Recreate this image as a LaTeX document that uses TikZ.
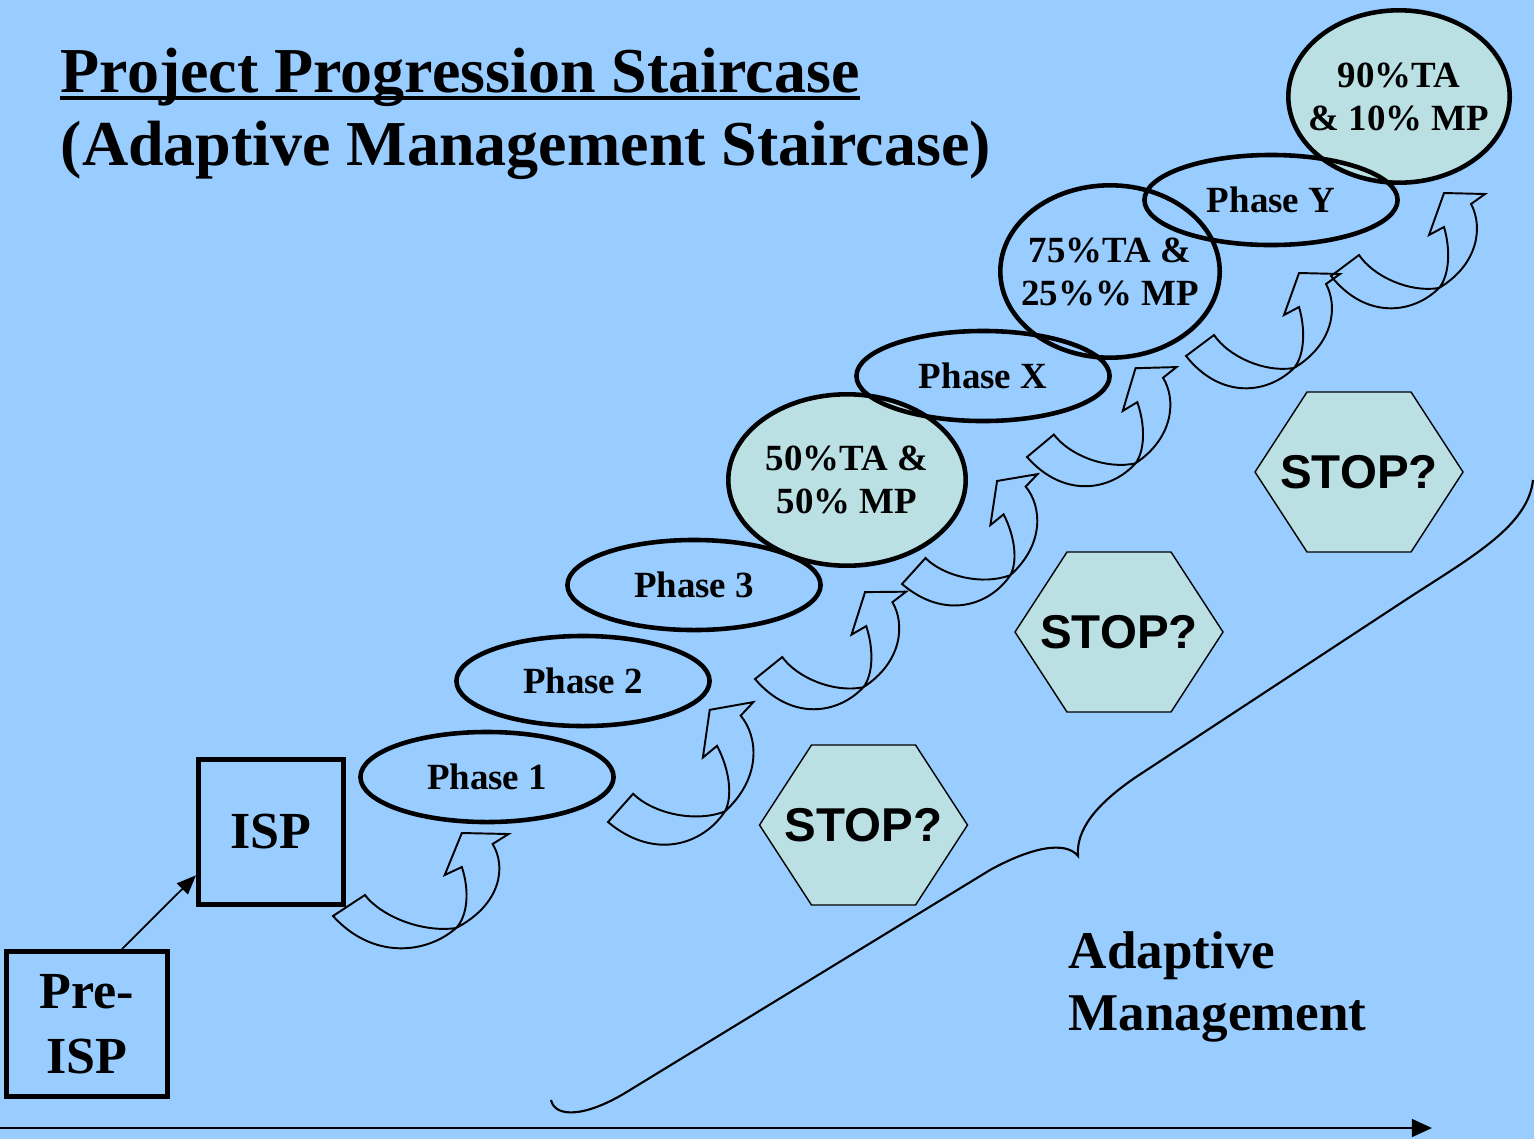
\documentclass[tikz,border=0pt]{standalone}
\usepackage{fontspec}
\setmainfont{Liberation Serif}
\newfontfamily\stopfont{Liberation Sans}
\usetikzlibrary{shapes.geometric,arrows.meta}
\definecolor{slideblue}{RGB}{153,204,255}
\definecolor{paleteal}{RGB}{187,224,227}

\begin{document}
\begin{tikzpicture}[x=0.01cm,y=-0.01cm,
  phase/.style={ellipse,draw,line width=1.3pt,inner sep=0pt,
    minimum width=2.53cm,minimum height=0.9cm,
    font=\fontsize{10.5}{12.2}\selectfont\bfseries},
  sharering/.style={draw,line width=1.3pt},
  share/.style={inner sep=0pt,align=center,
    font=\fontsize{10.5}{12.2}\selectfont\bfseries},
  stagebox/.style={draw,line width=1.4pt,inner sep=0pt,align=center,
    font=\fontsize{14.8}{18.5}\selectfont\bfseries},
  heading/.style={anchor=base west,inner sep=0pt,
    font=\fontsize{18.2}{22}\selectfont\bfseries},
  stophex/.style={draw,line width=0.4pt,fill=paleteal},
  turnarrow/.pic={
    \draw[line width=0.55pt,line join=miter]
      (28,-21) .. controls (42,0) and (78,17) .. (108,12)
      .. controls (118,0) and (120,-25) .. (113,-49)
      -- (98,-41) -- (113,-83) -- (154,-82) -- (140,-72)
      .. controls (152,-50) and (148,-12) .. (108,12)
      .. controls (82,38) and (35,44) .. (0,0) -- cycle;}]

\fill[slideblue] (0,0) rectangle (1534,1139);
\useasboundingbox (0,0) rectangle (1534,1139);

\node[heading] (title) at (60,92) {Project Progression Staircase};
\draw[line width=0.9pt] ([yshift=-1.7pt]title.base west) -- ([yshift=-1.7pt]title.base east);
\node[heading] (subtitle) at (60,165) {(Adaptive Management Staircase)};

\draw[sharering,fill=paleteal] (847,480) ellipse [x radius=118.7, y radius=85.7];
\node[share] (mix50) at (847,480) {50\%TA \&\\50\% MP};
\draw[sharering,fill=paleteal] (1399,96.5) ellipse [x radius=110.7, y radius=86.2];
\node[share] (mix90) at (1399,97) {90\%TA\\\& 10\% MP};
\draw[sharering] (1110,271.5) ellipse [x radius=109.7, y radius=86.2];
\node[share] (mix75) at (1110,272) {75\%TA \&\\25\%\% MP};

\foreach \n/\x/\y in {1/487/777, 2/583/681, 3/694/585, X/983/376, Y/1271/200}
  \node[phase] (phase\n) at (\x,\y) {Phase \n};

\node[stagebox,minimum width=1.45cm,minimum height=1.45cm] (isp) at (271,832) {ISP};
\node[stagebox,minimum width=1.6cm,minimum height=1.45cm] (preisp) at (87,1024) {Pre-\\ISP};
\draw[line width=0.5pt,-{Triangle[length=5.5pt,width=4.4pt]}] (preisp.65) -- (isp.210);

\foreach \x/\y/\r/\s/\t in {
  333/916/0/1.14/1,
  608/822/11.5/1.08/1.08,
  755/679/2/1/1,
  902/584/11/1/1,
  1027/457/3/1/1,
  1186/356/0/1/1,
  1331/276/0/1/1}
  \pic[rotate=\r,xscale=\s,yscale=\t] at (\x,\y) {turnarrow};

\foreach \n/\x/\y in {1/863.5/825, 2/1119/632, 3/1359/472} {
  \draw[stophex] (\x-104,\y) -- ++(52,-80) -- ++(104,0) -- ++(52,80)
    -- ++(-52,80) -- ++(-104,0) -- cycle;
  \node[font=\stopfont\fontsize{13.5}{16}\selectfont\bfseries] (stop\n) at (\x,\y) {STOP?};
}

\draw[line width=0.6pt] (551,1100) .. controls (555,1118) and (585,1117) .. (625,1093)
  -- (990,870) .. controls (1030,848) and (1065,840) .. (1078,856)
  .. controls (1076,830) and (1095,805) .. (1136,777)
  -- (1410,597) .. controls (1475,555) and (1528,525) .. (1533,480);

\node[anchor=base west,inner sep=0pt,font=\fontsize{15.1}{18}\selectfont\bfseries]
  (adaptive) at (1068,968) {Adaptive};
\node[anchor=base west,inner sep=0pt,font=\fontsize{15.1}{18}\selectfont\bfseries]
  (management) at (1068,1030) {Management};

\coordinate (timestart) at (0,1128);
\coordinate (timeend) at (1432,1128);
\draw[line width=0.8pt,-{Triangle[length=5.7pt,width=5pt]}] (timestart) -- (timeend);
\end{tikzpicture}
\end{document}
